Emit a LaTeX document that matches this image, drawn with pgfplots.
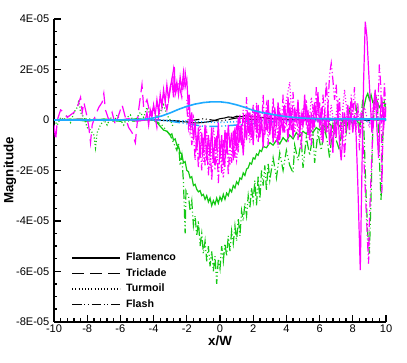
\documentclass[border=0pt]{standalone}
\usepackage{pgfplots}
\pgfplotsset{compat=1.18}
\usepackage{fontspec}
\setmainfont{Liberation Sans}
\definecolor{cmag}{RGB}{255,0,255}
\definecolor{cgrn}{RGB}{20,200,20}
\definecolor{ccya}{RGB}{30,170,255}
\begin{document}
\begin{tikzpicture}
\path[use as bounding box] (0pt,0pt) rectangle (305.25pt,271.5pt);
\begin{axis}[
  at={(40.5pt,30.2pt)}, anchor=south west,
  scale only axis, width=249pt, height=227pt,
  xmin=-10, xmax=10, ymin=-8, ymax=4,
  axis x line*=bottom, axis y line*=left,
  axis line style={line width=1.5pt},
  tick align=inside,
  major tick length=5.25pt, minor tick length=2.6pt,
  every tick/.style={black, line width=1pt},
  minor tick num=3,
  minor x tick num=4,
  xtick={-10,-8,...,10},
  xticklabels={-10,-8,-6,-4,-2,0,2,4,6,8,10},
  ytick={-8,-6,-4,-2,0,2,4},
  yticklabels={-8E-05,-6E-05,-4E-05,-2E-05,0,2E-05,4E-05},
  tick label style={font=\fontsize{8.3}{9}\selectfont},
  xticklabel style={yshift=1pt},
  xlabel={\textbf{x/W}}, ylabel={\textbf{Magnitude}},
  label style={font=\fontsize{10}{12}\selectfont},
  xlabel style={at={(axis description cs:0.5,-0.063)}, anchor=center},
  ylabel style={at={(axis description cs:-0.133,0.5)}, anchor=center},
  legend image code/.code={\draw[#1] (0pt,0pt) -- (36pt,0pt);},
  legend style={at={(axis description cs:0.04,0.245)}, anchor=north west,
    draw=none, fill=none, font=\bfseries\fontsize{8}{9}\selectfont,
    row sep=0.3pt, column sep=2pt},
  legend cell align=left,
  every axis plot/.append style={line width=0.9pt},
]
\addlegendimage{black, solid, line width=1pt}
\addlegendentry{Flamenco}
\addlegendimage{black, dash pattern=on 9pt off 4.5pt, line width=1pt}
\addlegendentry{Triclade}
\addlegendimage{black, dash pattern=on 0.8pt off 1.6pt, line width=1pt}
\addlegendentry{Turmoil}
\addlegendimage{black, dash pattern=on 7pt off 2pt on 0.8pt off 2pt on 0.8pt off 2pt, line width=1pt}
\addlegendentry{Flash}

% black solid (Flamenco)
\addplot[black, solid, line width=0.8pt, forget plot] coordinates {
(-10,0) (-6,0) (-4,0) (-3,-0.03) (-2.5,-0.06) (-2,-0.08) (-1.5,-0.12) (-1,-0.1) (-0.5,-0.05) (0,0.05) (0.3,0.08) (0.5,0.12) (0.8,0.1) (1,0.15) (1.3,0.13) (1.5,0.17) (1.8,0.15) (2,0.14) (2.5,0.1) (3,0.06) (4,0.02) (6,0) (10,0)
};
% black dash-dot-dot
\addplot[black, dash pattern=on 7pt off 2pt on 0.8pt off 2pt on 0.8pt off 2pt, line width=0.8pt, forget plot] coordinates {
(-10,0) (-4,0) (-2,-0.05) (-1,0.05) (0,-0.05) (1,0.08) (2,0.02) (3,0.06) (4,-0.02) (6,0.02) (8,-0.02) (10,0)
};
% green dotted (Turmoil)
\addplot[cgrn, dash pattern=on 0.8pt off 1.6pt, forget plot] coordinates {
(-10,0) (-9.8,-0.2) (-9.6,0.1) (-9.4,0.0) (-9.2,0.2) (-9.0,-0.1) (-8.8,0.3) (-8.6,0.5) (-8.5,0.8) (-8.4,0.3) (-8.2,0.1) (-8.0,-0.3) (-7.8,-0.4) (-7.6,-0.6) (-7.5,-1.1) (-7.4,-0.5) (-7.2,-0.2) (-7.0,0.0) (-6.8,-0.2) (-6.6,0.1) (-6.4,-0.1) (-6.2,0.2) (-6.0,0.0) (-5.8,-0.2) (-5.6,0.1) (-5.4,0.2) (-5.2,-0.1) (-5.0,0.1) (-4.8,0.3) (-4.6,0.1) (-4.4,0.5) (-4.2,0.2) (-4.0,0.4) (-3.8,0.1) (-3.6,0.3) (-3.4,0.6) (-3.2,0.2) (-3.0,0.0) (-2.8,-0.3)
};
% green solid (Flamenco)
\addplot[cgrn, solid, forget plot] coordinates {
(-10,0) (-9,0.03) (-8,-0.05) (-7,0.04) (-6,-0.03) (-5,0.05) (-4.5,0.02)
(-4.0,0.0) (-3.8,-0.1) (-3.6,-0.25) (-3.4,-0.4) (-3.2,-0.45) (-3.0,-0.6) (-2.9,-0.55) (-2.8,-0.8) (-2.7,-0.75) (-2.6,-1.0) (-2.5,-1.05) (-2.4,-1.3) (-2.3,-1.35) (-2.2,-1.7) (-2.1,-1.65) (-2.0,-2.0) (-1.9,-2.05) (-1.8,-2.3) (-1.7,-2.25) (-1.6,-2.6) (-1.5,-2.55) (-1.4,-2.75) (-1.3,-2.85) (-1.2,-2.8) (-1.1,-3.0) (-1.0,-2.95) (-0.9,-3.15) (-0.8,-3.0) (-0.7,-3.25) (-0.6,-3.1) (-0.5,-3.4) (-0.4,-3.2) (-0.3,-3.35) (-0.2,-3.1) (-0.1,-3.3) (0.0,-3.05) (0.1,-3.2) (0.2,-2.95) (0.3,-3.15) (0.4,-2.9) (0.5,-3.0) (0.6,-2.75) (0.7,-2.85) (0.8,-2.6) (0.9,-2.7) (1.0,-2.45) (1.1,-2.55) (1.2,-2.3) (1.3,-2.35) (1.4,-2.1) (1.5,-2.2) (1.6,-1.95) (1.7,-1.9) (1.8,-1.7) (1.9,-1.75) (2.0,-1.5) (2.1,-1.55) (2.2,-1.35) (2.3,-1.4) (2.4,-1.2) (2.5,-1.25) (2.6,-1.05) (2.8,-1.1) (3.0,-0.9) (3.2,-1.0) (3.4,-0.8) (3.6,-0.95) (3.8,-0.7) (4.0,-0.85) (4.2,-0.6) (4.4,-0.75) (4.6,-0.5) (4.8,-0.65) (5.0,-0.45) (5.2,-0.55) (5.4,-0.35) (5.6,-0.5) (5.8,-0.3) (6.0,-0.4) (6.2,-0.2) (6.4,-0.35) (6.6,-0.15) (6.8,-0.3) (7.0,-0.1) (7.2,-0.25) (7.4,-0.05) (7.6,-0.2) (7.8,0.0) (8.0,-0.15) (8.2,0.05) (8.4,-0.2) (8.6,0.3) (8.8,0.9) (8.9,1.05) (9.0,0.8) (9.1,1.0) (9.2,0.7) (9.4,0.85) (9.6,0.5) (9.8,0.7) (10.0,0.6)
};
% green dash-dot-dot (Flash)
\addplot[cgrn, dash pattern=on 7pt off 2pt on 0.8pt off 2pt on 0.8pt off 2pt, forget plot] coordinates {
(-10,0) (-8,0.05) (-6,-0.05) (-4,0) (-3.5,-0.2) (-3,-0.6) (-2.8,-0.9) (-2.6,-1.2) (-2.5,-0.9) (-2.4,-1.8) (-2.3,-1.4) (-2.2,-2.5) (-2.1,-4.5) (-2.05,-2.8) (-1.9,-3.0) (-1.8,-3.6) (-1.7,-3.2) (-1.6,-4.2) (-1.5,-3.8) (-1.4,-4.6) (-1.3,-4.0) (-1.2,-5.0) (-1.1,-4.5) (-1.0,-5.3) (-0.9,-4.8) (-0.8,-5.6) (-0.7,-5.0) (-0.6,-5.8) (-0.5,-5.2) (-0.4,-6.0) (-0.3,-5.4) (-0.2,-6.5) (-0.1,-5.5) (0,-5.9) (0.1,-5.0) (0.2,-5.6) (0.3,-4.9) (0.4,-5.4) (0.5,-4.6) (0.6,-5.2) (0.7,-4.4) (0.8,-4.9) (0.9,-4.2) (1.0,-4.8) (1.1,-3.9) (1.2,-4.6) (1.3,-3.6) (1.4,-4.0) (1.5,-3.3) (1.6,-3.8) (1.7,-3.0) (1.8,-3.5) (1.9,-2.7)
(2.0,-3.2) (2.1,-2.4) (2.2,-3.4) (2.3,-2.2) (2.4,-3.2) (2.5,-2.0) (2.6,-2.6) (2.7,-1.8) (2.8,-2.8) (2.9,-1.7) (3.0,-2.4) (3.2,-1.5) (3.4,-2.3) (3.6,-1.3) (3.8,-2.0) (4.0,-1.2) (4.2,-1.8) (4.4,-2.1) (4.5,-1.0) (4.7,-1.6) (4.9,-0.8) (5.0,-1.9) (5.2,-0.7) (5.4,-1.4) (5.6,-0.6) (5.7,-1.7) (5.9,-0.5) (6.1,-1.2) (6.3,-0.3) (6.5,-1.0) (6.6,-1.5) (6.8,-0.2) (7.0,-0.8) (7.2,-1.2) (7.4,0.1) (7.6,-0.5) (7.8,0.4) (8.0,-0.3) (8.2,0.5) (8.4,-0.6) (8.6,0.8) (8.7,-1.0) (8.8,-3.0) (8.9,-4.5) (9.0,-5.3) (9.1,-3.0) (9.2,-0.5) (9.3,0.6) (9.4,1.0) (9.5,0.3) (9.6,-1.5) (9.7,-3.2) (9.8,-0.8) (9.9,0.7) (10.0,0.4)
};
% cyan dash-dot-dot
\addplot[ccya, dash pattern=on 7pt off 2pt on 0.8pt off 2pt on 0.8pt off 2pt, line width=1.1pt, forget plot] coordinates {
(-10,0) (-6,0) (-4,0) (-3,-0.05) (-2,-0.15) (-1,-0.25) (0,-0.25) (1,-0.2) (2,-0.15) (3,-0.08) (4,-0.03) (5,0) (6,-0.05) (7,0.02) (8,-0.04) (9,0.03) (10,-0.02)
};
% cyan dotted
\addplot[ccya, dash pattern=on 0.8pt off 1.6pt, line width=1.1pt, forget plot] coordinates {
(-10,0) (-4,0) (0,-0.1) (3,0.0) (3.5,0.1) (4,-0.05) (4.5,0.12) (5,-0.08) (5.5,0.1) (6,-0.1) (6.5,0.12) (7,-0.06) (7.5,0.1) (8,-0.12) (8.5,0.08) (9,-0.1) (9.5,0.1) (10,0)
};
% magenta dashed (Triclade)
\addplot[cmag, dash pattern=on 9pt off 4.5pt, forget plot] coordinates {
(-10.0,-0.2) (-9.9,-0.8) (-9.8,0.0) (-9.6,0.4) (-9.4,0.3) (-9.2,0.1) (-9.0,0.2) (-8.8,0.3) (-8.6,0.5) (-8.4,0.9) (-8.3,0.3) (-8.2,0.7) (-8.0,0.1) (-7.9,-0.3) (-7.8,-0.9) (-7.7,-0.2) (-7.5,0.2) (-7.3,0.5) (-7.1,0.7) (-7.0,1.05) (-6.9,0.4) (-6.7,0.0) (-6.5,0.3) (-6.3,-0.2) (-6.1,0.2) (-5.9,0.6) (-5.7,0.1) (-5.5,-0.3) (-5.3,-0.5) (-5.1,-0.9) (-5.0,-0.2) (-4.9,0.4) (-4.7,1.4) (-4.6,0.5) (-4.4,0.8) (-4.2,0.2) (-4.0,0.5) (-3.8,-0.3) (-3.6,0.6) (-3.4,1.0) (-3.2,0.4) (-3.0,1.2) (-2.8,2.0) (-2.7,1.0) (-2.5,1.5) (-2.3,0.9) (-2.1,1.9) (-2.0,1.3)
};
% magenta dotted (Turmoil)
\addplot[cmag, dash pattern=on 0.8pt off 1.6pt, forget plot] coordinates {
(-2.0,0.8) (-1.8,-0.5) (-1.6,0.1) (-1.4,-1.1) (-1.2,-0.2) (-1.0,-1.7) (-0.8,-0.5) (-0.6,-1.9) (-0.4,-0.3) (-0.2,-1.6) (0.0,-0.8) (0.2,-2.3) (0.4,-0.9) (0.6,-1.8) (0.8,-0.6) (1.0,-1.6) (1.2,-0.3) (1.4,-1.2) (1.6,0.0) (1.8,-0.9) (2.0,0.5) (2.2,-0.6) (2.4,0.3) (2.6,-0.8) (2.8,0.6) (3.0,-0.4) (3.2,0.4) (3.4,-0.9) (3.6,0.2) (3.8,-0.3) (4.0,0.8) (4.2,1.5) (4.3,0.4) (4.5,-0.5) (4.7,0.6) (4.9,-0.2) (5.1,0.7) (5.3,-0.7) (5.5,0.9) (5.7,-0.1) (5.9,0.5) (6.1,-0.8) (6.3,0.4) (6.5,-0.5) (6.7,0.6) (6.9,-0.4) (7.1,0.8) (7.3,-0.3) (7.5,1.2) (7.7,0.0) (7.9,0.7) (8.1,-0.2) (8.3,0.4) (8.5,-0.1) (8.7,0.5) (9.0,-0.3) (9.3,0.8) (9.6,-0.2) (10,0.2)
};
% magenta dash-dot-dot (Flash)
\addplot[cmag, dash pattern=on 7pt off 2pt on 0.8pt off 2pt on 0.8pt off 2pt, forget plot] coordinates {
(-2.0,0.5) (-1.9,-0.3) (-1.8,0.2) (-1.7,-1.0) (-1.6,-0.4) (-1.5,-1.6) (-1.4,-0.6) (-1.3,-1.9) (-1.2,-0.9) (-1.1,-2.0) (-1.0,-0.7) (-0.9,-1.8) (-0.8,-1.0) (-0.7,-2.2) (-0.6,-0.8) (-0.5,-2.4) (-0.4,-1.1) (-0.3,-2.0) (-0.2,-0.6) (-0.1,-2.5) (0.0,-1.0) (0.1,-2.1) (0.2,-0.8) (0.3,-1.9) (0.4,-0.5) (0.5,-2.2) (0.6,-0.9) (0.7,-1.7) (0.8,-0.4) (0.9,-1.5) (1.0,-0.2) (1.1,-1.3) (1.2,0.2) (1.3,-1.0) (1.4,0.4) (1.5,-0.7) (1.6,0.9) (1.7,-0.5) (1.8,0.3) (1.9,-0.8) (2.0,0.6)
(2.1,-0.3) (2.2,0.7) (2.3,-0.9) (2.4,0.2) (2.5,-0.4) (2.6,1.0) (2.7,-0.6) (2.8,0.4) (2.9,-1.0) (3.0,0.3) (3.1,-0.2) (3.2,0.9) (3.3,-0.7) (3.4,0.1) (3.5,-1.1) (3.6,0.5) (3.7,-0.3) (3.8,1.0) (3.9,-0.5) (4.0,0.2) (4.1,-0.9) (4.2,0.7) (4.3,-0.4) (4.4,1.1) (4.5,-0.2) (4.6,0.4) (4.7,-0.8) (4.8,0.3) (4.9,-1.2) (5.0,0.5) (5.1,-0.1) (5.2,0.8) (5.3,-0.6) (5.4,0.2) (5.5,-1.0) (5.6,0.6) (5.7,-0.3) (5.8,1.3) (5.9,-0.1) (6.0,0.7) (6.1,-0.6) (6.2,1.0) (6.3,0.2) (6.4,1.5) (6.5,0.5) (6.6,1.8) (6.7,2.25) (6.8,1.6) (6.9,0.8) (7.0,1.4) (7.1,0.1) (7.2,0.9) (7.3,-0.8) (7.4,0.3) (7.5,-1.5) (7.6,-0.2) (7.7,0.5) (7.8,-0.6) (7.9,1.0) (8.0,0.2) (8.1,1.3) (8.2,-0.4) (8.3,0.7) (8.4,-1.2) (8.5,0.3) (8.6,-0.8) (8.7,-2.0) (8.8,-3.5) (8.9,-5.0) (8.95,-5.7) (9.0,-4.0) (9.1,-2.2) (9.2,-0.5) (9.3,0.4) (9.4,1.0) (9.5,0.2) (9.6,2.2) (9.7,1.2) (9.75,-2.9) (9.8,-1.0) (9.9,1.5) (10.0,0.3)
};
% magenta solid (Flamenco)
\addplot[cmag, solid, forget plot] coordinates {
(-10,0) (-9.5,0.02) (-9,0) (-8.5,0.03) (-8,0) (-7.5,0.02) (-7,-0.02) (-6.5,0.02) (-6,0) (-5.5,0.05) (-5,-0.05) (-4.5,0.0)
(-4.4,0.3) (-4.3,-0.2) (-4.2,0.4) (-4.1,0.1) (-4.0,0.6) (-3.9,0.2) (-3.8,0.8) (-3.7,0.3) (-3.6,1.0) (-3.5,0.5) (-3.4,1.2) (-3.3,0.7) (-3.2,1.4) (-3.1,0.8) (-3.0,1.3) (-2.9,1.6) (-2.8,0.9) (-2.75,2.1) (-2.7,1.1) (-2.6,1.5) (-2.5,1.0) (-2.4,1.7) (-2.3,1.2) (-2.2,1.9) (-2.1,1.3) (-2.0,1.6) (-1.9,0.4) (-1.85,1.0) (-1.8,-0.2) (-1.7,0.3) (-1.6,-0.8) (-1.5,-0.1) (-1.4,-1.2) (-1.3,-0.3) (-1.2,-1.5) (-1.1,-0.5) (-1.0,-1.3) (-0.9,-0.2) (-0.8,-1.6) (-0.7,-0.6) (-0.6,-1.4) (-0.5,-0.3) (-0.4,-1.7) (-0.3,-0.7) (-0.2,-1.2) (-0.1,-0.1) (0.0,-1.5) (0.1,-0.6) (0.2,-1.8) (0.3,-0.4) (0.4,-1.3) (0.5,-0.2) (0.6,-1.1) (0.7,-0.5) (0.8,-1.6) (0.9,-0.3) (1.0,-1.2) (1.1,0.1) (1.2,-0.9) (1.3,-0.2) (1.4,-1.4) (1.5,-0.1) (1.6,-0.8) (1.7,0.3) (1.8,-0.6) (1.9,0.2) (2.0,-1.0) (2.1,0.4) (2.2,-0.5) (2.3,0.6) (2.4,-0.7) (2.5,0.1) (2.6,-1.1) (2.7,0.3) (2.8,-0.4) (2.9,0.8) (3.0,-0.6) (3.1,0.2) (3.2,-0.9) (3.3,0.5) (3.4,-0.3) (3.5,0.7) (3.6,-0.8) (3.7,0.1) (3.8,-0.5) (3.9,0.6) (4.0,-0.2) (4.1,0.9) (4.2,-0.4) (4.3,0.3) (4.4,-0.7) (4.5,0.5) (4.6,-0.1) (4.7,0.8) (4.8,-0.6) (4.9,0.2) (5.0,-0.3) (5.1,1.0) (5.2,-0.2) (5.3,0.4) (5.4,-0.8) (5.5,0.3) (5.6,-0.4) (5.7,0.7) (5.8,0.0) (5.9,1.1) (6.0,-0.3) (6.1,0.5) (6.2,-0.9) (6.3,0.2) (6.4,-0.5) (6.5,0.6) (6.6,-1.0) (6.7,-0.2) (6.8,-1.3) (6.9,0.1) (7.0,-0.7) (7.1,0.4) (7.2,-0.9) (7.3,-1.6) (7.4,-0.6) (7.5,0.3) (7.6,-0.4) (7.7,0.6) (7.8,-0.2) (7.9,0.3) (8.0,-0.5) (8.1,0.2) (8.2,-0.6) (8.3,-2.5) (8.45,-5.95) (8.55,-2.0) (8.65,1.5) (8.75,3.9) (8.85,3.3) (8.95,2.0) (9.05,0.8) (9.15,-0.5) (9.25,0.6) (9.35,1.2) (9.45,-0.3) (9.55,-1.5) (9.65,0.2) (9.75,0.9) (9.85,-0.4) (9.95,0.5) (10.0,0.1)
};
% cyan solid (Flamenco)
\addplot[ccya, solid, line width=1.2pt, forget plot] coordinates {
(-10,0) (-6,0) (-5,0.01) (-4.5,0.03) (-4,0.08) (-3.5,0.16) (-3,0.28) (-2.5,0.42) (-2,0.54) (-1.5,0.63) (-1,0.69) (-0.5,0.72) (0,0.72) (0.5,0.68) (1,0.6) (1.5,0.5) (2,0.38) (2.5,0.3) (3,0.24) (3.5,0.18) (4,0.13) (5,0.07) (6,0.05) (8,0.04) (10,0.04)
};
\end{axis}
\end{tikzpicture}
\end{document}
